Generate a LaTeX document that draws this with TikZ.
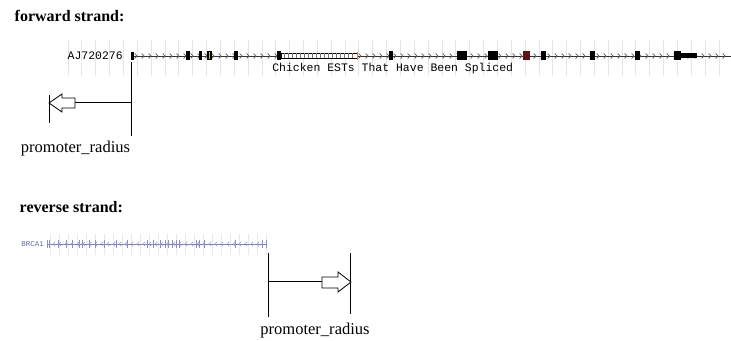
\documentclass[tikz,border=0pt]{standalone}
\usepackage{fontspec}
\setmainfont{Liberation Serif}
\setmonofont{Liberation Mono}
\definecolor{gridgray}{RGB}{228,228,234}
\definecolor{gridblue}{RGB}{232,232,245}
\definecolor{trackblue}{RGB}{105,105,170}
\definecolor{exonred}{RGB}{95,20,20}
\definecolor{exonolive}{RGB}{190,175,95}
\definecolor{cdsorange}{RGB}{200,130,80}

\begin{document}
\begin{tikzpicture}[x=0.75pt,y=-0.75pt,
  heading/.style={anchor=base west,font=\bfseries\fontsize{12}{14}\selectfont},
  radiuslabel/.style={anchor=base,font=\fontsize{12.4}{14}\selectfont},
  tracklabel/.style={inner sep=0pt,font=\ttfamily\fontsize{8.6}{10}\selectfont},
  exon/.style={fill=black},
  edge/.style={line width=0.75pt},
  blockarrow/.style={draw,line width=0.6pt,fill=white,line join=miter}]
\useasboundingbox (0,0) rectangle (731,341);
\def\fy{56}
\def\ry{244}

% forward strand
\node[heading] (fwdhead) at (10,22) {forward strand:};
\foreach \x in {68,81.85,...,731}
  \draw[gridgray,line width=0.6pt] (\x,40) -- (\x,76);
\draw[line width=0.7pt,black!80] (131,\fy) -- (731,\fy);
\foreach \x in {136,143,...,728}
  \draw[gray!70!black,line width=0.5pt] (\x-1.3,\fy-2.5) -- (\x+1,\fy) -- (\x-1.3,\fy+2.5);
\node[tracklabel,anchor=east] (fwdname) at (123,\fy) {AJ720276};
% exons
\fill[exon] (131,52) rectangle (133.5,60);
\foreach \a/\b in {186/190,199/201.5,206.5/211.5,233.5/237.5,277/281,389/393,457/467,488/498,541/546,590/595,635/640,674/681}
  \fill[exon] (\a,51.5) rectangle (\b,60.5);
\draw[exonolive,line width=0.7pt] (209,52.5) -- (209,59.5);
\fill[exonred] (523,51.5) rectangle (530,60.5);
\fill[exon] (681,53.5) rectangle (697,58.5);
\filldraw[fill=white,draw=black,line width=0.6pt] (281,53.5) rectangle (357,58.5);
\foreach \x in {284,288,...,355}
  \draw[black!55,line width=0.4pt] (\x,53.5) -- (\x,58.5);
\draw[cdsorange,line width=0.9pt] (357.5,52) -- (357.5,60);
\node[tracklabel,anchor=west] (fwdest) at (272,69) {Chicken ESTs That Have Been Spliced};

% forward promoter radius
\coordinate (ftop) at (131,62);
\coordinate (fbot) at (131,136);
\coordinate (fmid) at (131,103);
\coordinate (ftail) at (75,103);
\coordinate (ftip) at (49,103);
\coordinate (fltop) at (49,95);
\coordinate (flbot) at (49,123);
\draw[edge] (ftop) -- (fbot);
\draw[edge] (fltop) -- (flbot);
\draw[edge] (fmid) -- (ftail);
\draw[blockarrow] (ftip) -- ++(13,-9) -- ++(0,4) -- (ftail |- 0,98) -- ++(0,10) -- ++(-13,0) -- ++(0,4) -- cycle;
\node[radiuslabel] (fradius) at (75.5,153) {promoter\_radius};

% reverse strand
\node[heading] (revhead) at (15,213) {reverse strand:};
\foreach \x in {50,59,...,268}
  \draw[gridblue,line width=0.6pt] (\x,234) -- (\x,255);
\draw[trackblue!85,line width=0.5pt] (47,\ry) -- (266,\ry);
\foreach \x in {54,60,...,260}
  \draw[trackblue!70,line width=0.4pt] (\x+1.2,\ry-2.2) -- (\x-1,\ry) -- (\x+1.2,\ry+2.2);
\foreach \x in {47,49.5,58,66,72,79,82,89,95,104,116,127,147,153,160,165,168,172,176,179,196,199,204,235,262,266}
  \draw[trackblue!75,line width=0.55pt] (\x,\ry-4) -- (\x,\ry+4);
\node[inner sep=0pt,anchor=east,trackblue,font=\ttfamily\fontsize{5.6}{6}\selectfont] (revname) at (44,\ry) {BRCA1};

% reverse promoter radius
\coordinate (rltop) at (268,253);
\coordinate (rlbot) at (268,317);
\coordinate (rmid) at (268,282);
\coordinate (rtail) at (322,282);
\coordinate (rtip) at (351,282);
\coordinate (rrtop) at (350,253);
\coordinate (rrbot) at (350,314);
\draw[edge] (rltop) -- (rlbot);
\draw[edge] (rrtop) -- (rrbot);
\draw[edge] (rmid) -- (rtail);
\draw[blockarrow] (rtip) -- ++(-13,-10) -- ++(0,5) -- (rtail |- 0,277) -- ++(0,11) -- ++(16,0) -- ++(0,4) -- cycle;
\node[radiuslabel] (rradius) at (315,335) {promoter\_radius};
\end{tikzpicture}
\end{document}
